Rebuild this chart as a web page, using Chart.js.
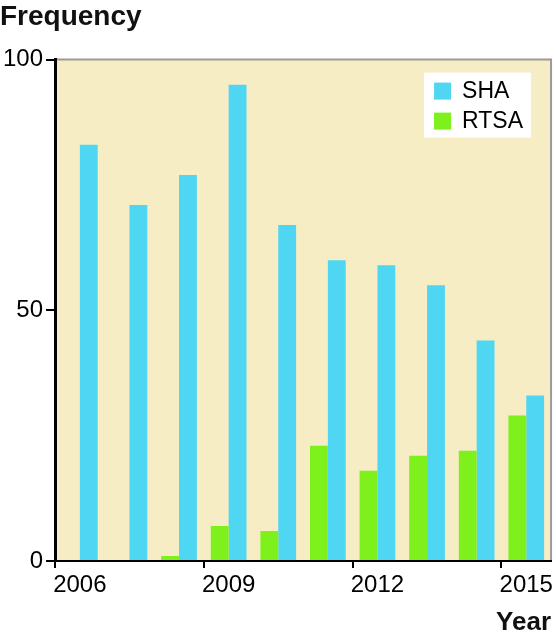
<!DOCTYPE html>
<html>
<head>
<meta charset="utf-8">
<script src="https://cdn.jsdelivr.net/npm/chart.js@4.4.1/dist/chart.umd.min.js"></script>
<style>
  html, body { margin: 0; padding: 0; background: #fff; }
  #wrap { width: 556px; height: 638px; }
</style>
</head>
<body>
<div id="wrap"><canvas id="chart" width="556" height="638"></canvas></div>
<script>
const years = ['2006','2007','2008','2009','2010','2011','2012','2013','2014','2015'];
const shaValues = [83, 71, 77, 95, 67, 60, 59, 55, 44, 33];
const rtsaValues = [0, 0, 1, 7, 6, 23, 18, 21, 22, 29];
const yTicks = [0, 50, 100];

const SHA_COLOR = '#4fd6f3';
const RTSA_COLOR = '#7ef01c';
const FONT = "'Liberation Sans', Arial, sans-serif";

// cream plot background + grey frame on top/right
const plotBg = {
    id: 'plotBg',
    beforeDraw(chart) {
        const { ctx, chartArea: a } = chart;
        ctx.save();
        ctx.fillStyle = '#f7edc5';
        ctx.fillRect(a.left, a.top, a.right - a.left, a.bottom - a.top);
        ctx.strokeStyle = '#9a9a9a';
        ctx.lineWidth = 2;
        ctx.beginPath();
        ctx.moveTo(a.left, a.top);
        ctx.lineTo(a.right, a.top);
        ctx.lineTo(a.right, a.bottom);
        ctx.stroke();
        ctx.restore();
    }
};

// legend box inside the plot, top right, SHA listed first
const boxLegend = {
    id: 'boxLegend',
    afterDraw(chart) {
        const { ctx, chartArea: a } = chart;
        const x0 = a.right - 127, y0 = a.top + 13;
        ctx.save();
        ctx.fillStyle = '#fff';
        ctx.fillRect(x0, y0, 107, 65);
        const items = chart.data.datasets.slice().reverse();
        ctx.font = '23px ' + FONT;
        ctx.textBaseline = 'middle';
        items.forEach((ds, i) => {
            const cy = y0 + 18 + i * 30;
            ctx.fillStyle = ds.backgroundColor;
            ctx.fillRect(x0 + 10, cy - 8, 17, 17);
            ctx.fillStyle = '#000';
            ctx.fillText(ds.label, x0 + 38, cy + 1);
        });
        ctx.restore();
    }
};

new Chart(document.getElementById('chart'), {
    type: 'bar',
    data: {
        labels: years,
        datasets: [
            { label: 'RTSA', data: rtsaValues, backgroundColor: RTSA_COLOR },
            { label: 'SHA', data: shaValues, backgroundColor: SHA_COLOR }
        ]
    },
    options: {
        responsive: false,
        animation: false,
        maintainAspectRatio: false,
        layout: { padding: { left: 0, right: 1, top: 0, bottom: 0 } },
        datasets: { bar: { categoryPercentage: 0.72, barPercentage: 1 } },
        plugins: {
            legend: { display: false },
            tooltip: { enabled: false },
            title: {
                display: true,
                text: 'Frequency',
                align: 'start',
                color: '#111',
                font: { family: FONT, size: 28, weight: 'bold' },
                padding: { top: 0, bottom: 26 }
            }
        },
        scales: {
            x: {
                grid: {
                    display: true,
                    drawOnChartArea: false,
                    tickLength: 7,
                    lineWidth: 2,
                    color: c => (c.index % 3 === 0 ? '#000' : 'rgba(0,0,0,0)')
                },
                border: { display: true, color: '#000', width: 2 },
                ticks: {
                    autoSkip: false,
                    maxRotation: 0,
                    color: '#000',
                    padding: 3,
                    font: { family: FONT, size: 24 },
                    callback: (v, i) => (i % 3 === 0 ? years[i] : '')
                },
                title: {
                    display: true,
                    text: 'Year',
                    align: 'end',
                    color: '#111',
                    font: { family: FONT, size: 26, weight: 'bold' },
                    padding: { top: 4, bottom: 0 }
                }
            },
            y: {
                min: 0,
                max: 100,
                afterBuildTicks: s => { s.ticks = yTicks.map(v => ({ value: v })); },
                grid: {
                    display: true,
                    drawOnChartArea: false,
                    tickLength: 9,
                    lineWidth: 2,
                    color: '#000'
                },
                border: { display: true, color: '#000', width: 3 },
                ticks: {
                    color: '#000',
                    padding: 3,
                    font: { family: FONT, size: 24 }
                }
            }
        }
    },
    plugins: [plotBg, boxLegend]
});
</script>
</body>
</html>
